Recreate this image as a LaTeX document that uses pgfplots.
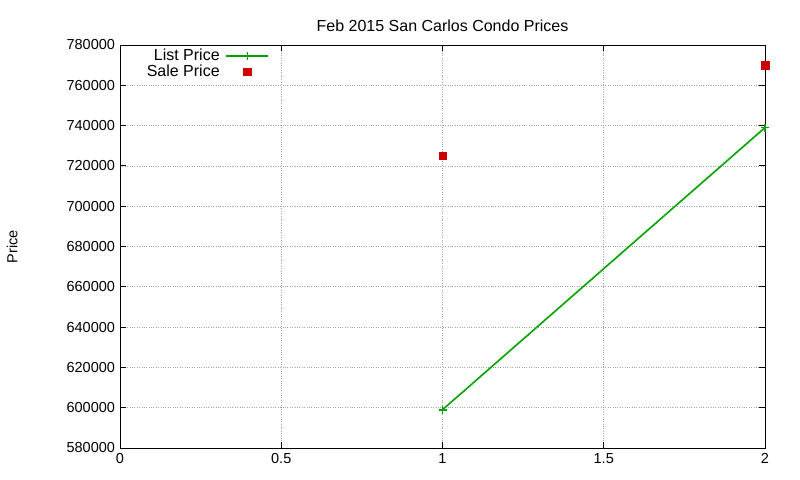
\documentclass[border=0pt]{standalone}
\usepackage{pgfplots}
\pgfplotsset{compat=1.18}
\usepackage{fontspec}
\setmainfont{Liberation Sans}
\definecolor{gpgreen}{RGB}{0,160,0}
\definecolor{gpred}{RGB}{204,0,0}
\begin{document}
\fontsize{14.5bp}{17bp}\selectfont
\begin{tikzpicture}
\useasboundingbox (0,0) rectangle (800bp,480bp);
\begin{axis}[
  at={(120bp,32bp)}, anchor=south west,
  scale only axis, width=645bp, height=403bp,
  xmin=0, xmax=2, ymin=580000, ymax=780000,
  xtick={0,0.5,1,1.5,2},
  ytick={580000,600000,...,780000},
  scaled y ticks=false,
  /pgf/number format/assume math mode=true,
  yticklabel={\pgfmathprintnumber[fixed,1000 sep={},precision=0]{\tick}},
  xticklabel={\pgfmathprintnumber[fixed,precision=1]{\tick}},
  tick align=inside, major tick length=6bp,
  tick style={black, line width=0.8pt},
  axis line style={black, line width=0.8pt},
  grid=major,
  major grid style={gray!70, dotted, line width=0.6pt},
  ylabel={Price},
  ylabel style={at={(axis description cs:-0.167,0.5)}, anchor=center},
  title={Feb 2015 San Carlos Condo Prices},
  title style={yshift=2bp, font=\fontsize{16bp}{19bp}\selectfont},
  legend style={draw=none, fill=none, at={(axis cs:0.07,780000)}, anchor=north west, yshift=-1bp, row sep=0bp, column sep=5bp,
    nodes={inner sep=1bp}, font=\fontsize{16bp}{18bp}\selectfont},
  legend cell align=right,
  legend plot pos=right,
  legend image code/.code={
    \draw[mark repeat=2,mark phase=2,#1] plot coordinates {(0bp,0bp) (21bp,0bp) (42bp,0bp)};
  },
  clip=false,
]
\addplot[gpgreen, line width=1.6pt, mark=+, mark size=4bp, mark options={line width=1.6pt}] coordinates {(1,599000) (2,739000)};
\addlegendentry{List Price}
\addplot[only marks, gpred, mark=square*, mark size=3.8bp] coordinates {(1,725000) (2,770000)};
\addlegendentry{Sale Price}
\end{axis}
\end{tikzpicture}
\end{document}
